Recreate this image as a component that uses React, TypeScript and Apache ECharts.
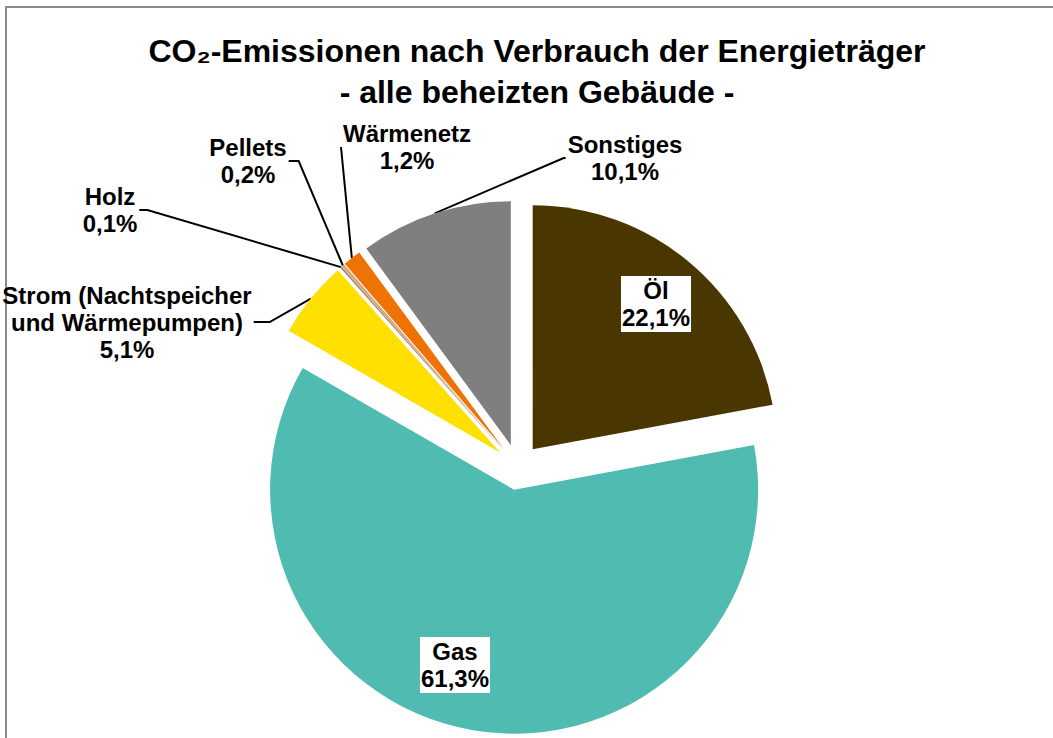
import React, { useEffect, useRef } from 'react';
import * as echarts from 'echarts';

// ---------- data ----------
const titleLines = ['CO₂-Emissionen nach Verbrauch der Energieträger', '- alle beheizten Gebäude -'];
const categories = ['Öl', 'Gas', 'Strom (Nachtspeicher\nund Wärmepumpen)', 'Holz', 'Pellets', 'Wärmenetz', 'Sonstiges'];
const shares = [22.1, 61.3, 5.1, 0.1, 0.2, 1.2, 10.1];
const sliceColors = ['#4a3600', '#50bbb1', '#ffe000', '#a87a55', '#d6a57c', '#ee7204', '#7f7f7f'];
const insideLabels = [true, true, false, false, false, false, false];

// ---------- layout (not data) ----------
const CENTER: [number, number] = [518, 467];
const RADIUS = 244;
const EXPLODE = 23;
const FONT = '"Liberation Sans", Arial, sans-serif';
const labelCenters: [number, number][] = [
  [656, 304],
  [455, 665],
  [127, 322],
  [110, 210],
  [248, 161],
  [407, 147],
  [625, 158],
];
const elbowLen = [0, 0, 16, 8, 10, 0, 2];

const fmt = (v: number) => v.toFixed(1).replace('.', ',') + '%';

export default function App() {
  const ref = useRef<HTMLDivElement>(null);
  useEffect(() => {
    document.body.style.margin = '0';
    if (!ref.current) return;
    const chart = echarts.init(ref.current, undefined, { renderer: 'svg' });
    const total = shares.reduce((a, b) => a + b, 0);
    const lineStyle = { color: '#000', width: 2, opacity: 1 };

    const sliceData = categories.map((name, i) => ({
      name,
      value: shares[i],
      selected: true,
      itemStyle: { color: sliceColors[i] },
      select: { itemStyle: { color: sliceColors[i] } },
    }));

    const labelData = categories.map((name, i) => ({
      name,
      value: shares[i],
      label: insideLabels[i]
        ? { position: 'inside', backgroundColor: '#fff', padding: [2, 1, 0, 1] }
        : { position: 'outside' },
    }));

    chart.setOption({
      animation: false,
      graphic: [
        {
          type: 'rect',
          shape: { x: 6, y: 7, width: 1200, height: 900 },
          style: { fill: 'none', stroke: '#8a8a8a', lineWidth: 2 },
          silent: true,
        },
        {
          type: 'text',
          x: 537,
          y: 71,
          style: {
            text: titleLines.join('\n'),
            font: `bold 32px ${FONT}`,
            lineHeight: 41,
            textAlign: 'center',
            textVerticalAlign: 'middle',
            fill: '#000',
          },
        },
      ],
      series: [
        {
          type: 'pie',
          center: CENTER,
          radius: RADIUS,
          startAngle: 90,
          clockwise: true,
          selectedMode: 'multiple',
          selectedOffset: EXPLODE,
          avoidLabelOverlap: false,
          emphasis: { disabled: true },
          itemStyle: { borderWidth: 0 },
          label: { show: false },
          labelLine: { show: false },
          data: sliceData,
        },
        {
          type: 'pie',
          center: CENTER,
          radius: RADIUS,
          startAngle: 90,
          clockwise: true,
          silent: true,
          selectedMode: false,
          avoidLabelOverlap: false,
          emphasis: { disabled: true },
          itemStyle: { color: 'rgba(0,0,0,0)', borderWidth: 0 },
          label: {
            show: true,
            color: '#000',
            fontFamily: FONT,
            fontWeight: 'bold',
            fontSize: 24,
            lineHeight: 27,
            align: 'center',
            formatter: (p: any) => `${p.name}\n${fmt(p.value)}`,
          },
          labelLine: { show: true, smooth: false, lineStyle },
          labelLayout: (params: any) => {
            const i = params.dataIndex;
            let before = 0;
            for (let j = 0; j < i; j++) before += shares[j];
            const mid = ((before + shares[i] / 2) / total) * Math.PI * 2;
            const dx = Math.sin(mid);
            const dy = -Math.cos(mid);
            const ax = CENTER[0] + (EXPLODE + RADIUS) * dx;
            const ay = CENTER[1] + (EXPLODE + RADIUS) * dy;
            const [lx, ly] = labelCenters[i];
            if (insideLabels[i]) {
              return { x: lx, y: ly, align: 'center', verticalAlign: 'middle' };
            }
            const w = params.labelRect.width;
            const leftSide = lx < ax;
            const endX = leftSide ? lx + w / 2 + 2 : lx - w / 2 - 2;
            const elbowX = leftSide ? endX + elbowLen[i] : endX - elbowLen[i];
            return {
              x: lx,
              y: ly,
              align: 'center',
              verticalAlign: 'middle',
              labelLinePoints: [
                [ax, ay],
                [elbowX, ly],
                [endX, ly],
              ],
            };
          },
          data: labelData,
        },
      ],
    });
    // Thicken leader lines of the label series
    chart.setOption({
      series: [{}, { labelLine: { lineStyle: { width: 2, color: '#000' } } }],
    });
    return () => chart.dispose();
  }, []);
  return <div ref={ref} style={{ width: 1053, height: 738 }} />;
}
